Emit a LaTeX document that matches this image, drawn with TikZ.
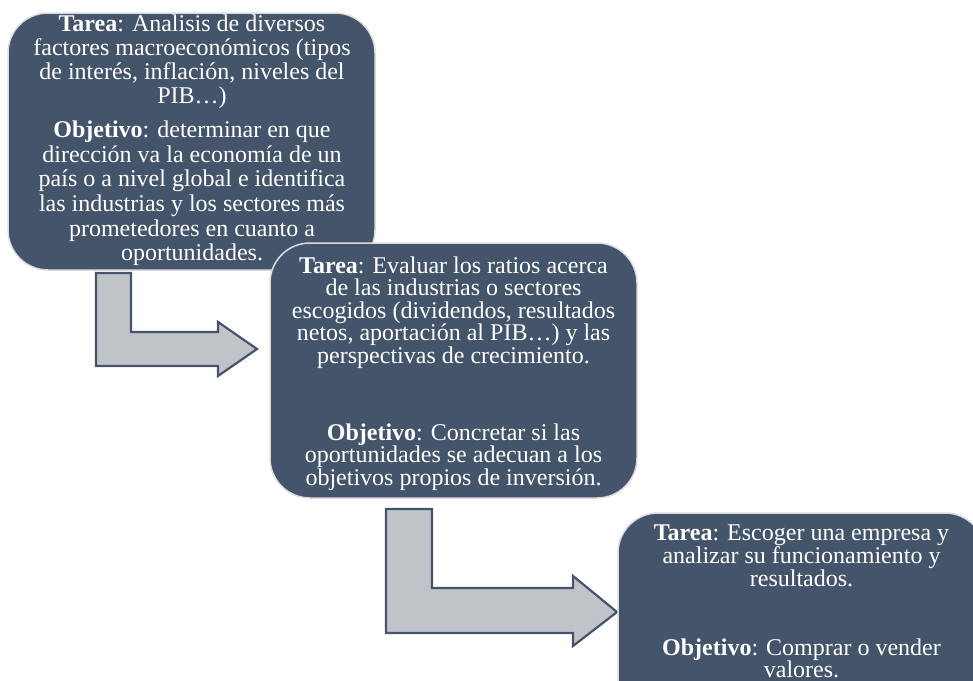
\documentclass[tikz,border=0pt]{standalone}
\usepackage{fontspec}
\setmainfont{Liberation Serif}
\definecolor{boxblue}{HTML}{44546A}
\definecolor{arrowgray}{HTML}{C0C4C9}
\definecolor{rimgray}{HTML}{DCDCDC}
\begin{document}
\begin{tikzpicture}[x=1pt,y=-1pt,
  stepcard/.style={draw=rimgray, line width=1.5pt, fill=boxblue, rounded corners=40pt,
    minimum width=367pt, minimum height=256pt, inner sep=0pt},
  bendarrow/.style={draw=boxblue, line width=2.2pt, fill=arrowgray, line join=miter},
  txt/.style={text=white, font=\fontsize{24}{24}\selectfont, anchor=base, inner sep=0pt}]
\clip (0,0) rectangle (973,680);

% bent arrows
\draw[bendarrow] (96,273) -- (131,273) -- (131,332) -- (218,332) -- (218,322)
  -- (257,349) -- (218,376) -- (218,366) -- (96,366) -- cycle;
\draw[bendarrow] (386,509) -- (432,509) -- (432,588) -- (573,588) -- (573,576)
  -- (617,612) -- (573,646) -- (573,633) -- (386,633) -- cycle;

% card 1
\node[stepcard, minimum height=257pt] (c1) at (191.5,141.5) {};
\foreach \y/\t [count=\i] in {
  31.7/{\textbf{Tarea}: Analisis de diversos},
  55.7/{factores macroeconómicos (tipos},
  79.7/{de interés, inflación, niveles del},
  103.7/{PIB…)},
  137.3/{\textbf{Objetivo}: determinar en que},
  162.0/{dirección va la economía de un},
  186.7/{país o a nivel global e identifica},
  211.4/{las industrias y los sectores más},
  236.1/{prometedores en cuanto a},
  260.8/{oportunidades.}}
  \node[txt] (ta\i) at (192,\y) {\t};

% card 2
\node[stepcard, minimum height=255pt] (c2) at (453.5,370.5) {};
\foreach \y/\t [count=\i] in {
  273.0/{\textbf{Tarea}: Evaluar los ratios acerca},
  295.5/{de las industrias o sectores},
  318.0/{escogidos (dividendos, resultados},
  340.5/{netos, aportación al PIB…) y las},
  363.0/{perspectivas de crecimiento.},
  440.0/{\textbf{Objetivo}: Concretar si las},
  462.5/{oportunidades se adecuan a los},
  485.0/{objetivos propios de inversión.}}
  \node[txt] (tb\i) at (453.5,\y) {\t};

% card 3
\node[stepcard, minimum height=255pt] (c3) at (801.5,640.5) {};
\foreach \y/\t [count=\i] in {
  540.0/{\textbf{Tarea}: Escoger una empresa y},
  563.3/{analizar su funcionamiento y},
  586.6/{resultados.},
  655.0/{\textbf{Objetivo}: Comprar o vender},
  677.0/{valores.}}
  \node[txt] (tc\i) at (801.5,\y) {\t};
\end{tikzpicture}
\end{document}
